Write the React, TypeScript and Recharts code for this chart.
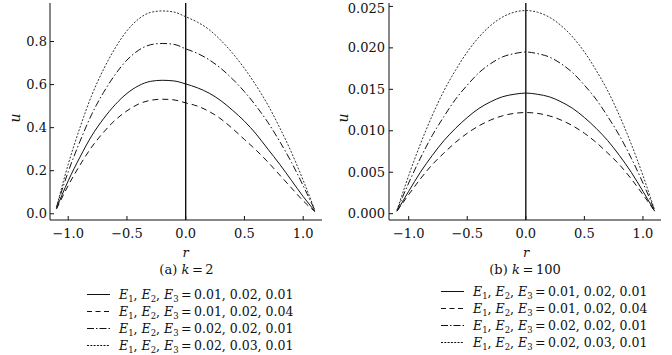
import React from 'react';
import { LineChart, Line, XAxis, YAxis, ReferenceLine } from 'recharts';

// radial coordinate samples
const rValues = [-1.1, -1.0, -0.9, -0.8, -0.7, -0.6, -0.5, -0.4, -0.3, -0.2, -0.1, 0, 0.1, 0.2, 0.3, 0.4, 0.5, 0.6, 0.7, 0.8, 0.9, 1.0, 1.1];

// (a) k = 2
const k2Solid = [0.025, 0.153, 0.263, 0.362, 0.441, 0.507, 0.559, 0.595, 0.615, 0.620, 0.617, 0.603, 0.585, 0.560, 0.525, 0.480, 0.430, 0.370, 0.300, 0.230, 0.155, 0.080, 0.012];
const k2Dashed = [0.022, 0.131, 0.226, 0.310, 0.378, 0.435, 0.478, 0.510, 0.527, 0.532, 0.529, 0.515, 0.500, 0.475, 0.440, 0.395, 0.345, 0.295, 0.240, 0.180, 0.120, 0.060, 0.010];
const k2DashDot = [0.030, 0.195, 0.336, 0.462, 0.563, 0.647, 0.714, 0.760, 0.785, 0.791, 0.787, 0.766, 0.745, 0.715, 0.675, 0.625, 0.567, 0.500, 0.424, 0.336, 0.239, 0.130, 0.015];
const k2Dotted = [0.030, 0.230, 0.400, 0.550, 0.670, 0.770, 0.850, 0.905, 0.935, 0.942, 0.937, 0.915, 0.890, 0.855, 0.805, 0.745, 0.675, 0.595, 0.505, 0.400, 0.285, 0.155, 0.015];

// (b) k = 100
const k100Solid = [0.0003, 0.0027, 0.0050, 0.0070, 0.0088, 0.0103, 0.0116, 0.0127, 0.0135, 0.0141, 0.0144, 0.01455, 0.0144, 0.0141, 0.0135, 0.0127, 0.0116, 0.0103, 0.0088, 0.0070, 0.0050, 0.0027, 0.0003];
const k100Dashed = [0.0003, 0.0023, 0.0042, 0.0059, 0.0073, 0.0086, 0.0097, 0.0106, 0.0113, 0.0118, 0.0121, 0.0122, 0.0121, 0.0118, 0.0113, 0.0106, 0.0097, 0.0086, 0.0073, 0.0059, 0.0042, 0.0023, 0.0003];
const k100DashDot = [0.0004, 0.0037, 0.0067, 0.0094, 0.0117, 0.0138, 0.0155, 0.0170, 0.0181, 0.0189, 0.0193, 0.0195, 0.0193, 0.0189, 0.0181, 0.0170, 0.0155, 0.0138, 0.0117, 0.0094, 0.0067, 0.0037, 0.0004];
const k100Dotted = [0.0004, 0.0046, 0.0084, 0.0118, 0.0148, 0.0173, 0.0195, 0.0213, 0.0227, 0.0237, 0.0243, 0.0245, 0.0243, 0.0237, 0.0227, 0.0213, 0.0195, 0.0173, 0.0148, 0.0118, 0.0084, 0.0046, 0.0004];

const xTicks = [-1, -0.5, 0, 0.5, 1];
const yTicksA = [0, 0.2, 0.4, 0.6, 0.8];
const yTicksB = [0, 0.005, 0.01, 0.015, 0.02, 0.025];

const legendValues = ['0.01, 0.02, 0.01', '0.01, 0.02, 0.04', '0.02, 0.02, 0.01', '0.02, 0.03, 0.01'];
const seriesKeys = ['s1', 's2', 's3', 's4'];
const dashes = [undefined, '6 4', '7 2.5 1.5 2.5', '2 1.6'];
const legendDashes = [undefined, '5 3.5', '7 2 1.5 2', '2 1.3'];

const FONT = 'DejaVu Serif';
const INK = '#111';

function buildRows(a: number[], b: number[], c: number[], d: number[]) {
  return rValues.map((r, i) => ({ r, s1: a[i], s2: b[i], s3: c[i], s4: d[i] }));
}

const dataA = buildRows(k2Solid, k2Dashed, k2DashDot, k2Dotted);
const dataB = buildRows(k100Solid, k100Dashed, k100DashDot, k100Dotted);

const minus = (s: string) => s.replace('-', '\u2212');

type PanelProps = {
  data: any[];
  xDomain: [number, number];
  yDomain: [number, number];
  yTicks: number[];
  yDigits: number;
  yWidth: number;
  marginRight: number;
  yTickMargin: number;
};

function Panel({ data, xDomain, yDomain, yTicks, yDigits, yWidth, marginRight, yTickMargin }: PanelProps) {
  const tickStyle = { fontFamily: FONT, fontSize: 13, fill: INK };
  return (
    <LineChart width={336} height={250} data={data} margin={{ top: 3, right: marginRight, bottom: 0, left: 0 }}>
      <XAxis
        xAxisId="b"
        type="number"
        dataKey="r"
        domain={xDomain}
        allowDataOverflow
        ticks={xTicks}
        tickFormatter={(v: number) => minus(v.toFixed(1))}
        tick={tickStyle}
        tickSize={-4}
        tickMargin={13}
        height={30}
        stroke={INK}
        tickLine={{ stroke: INK }}
        axisLine={{ stroke: INK }}
      />
      <XAxis xAxisId="t" orientation="top" type="number" domain={xDomain} allowDataOverflow height={0} tick={false} tickLine={false} axisLine={{ stroke: INK }} />
      <YAxis
        yAxisId="l"
        type="number"
        domain={yDomain}
        allowDataOverflow
        ticks={yTicks}
        tickFormatter={(v: number) => v.toFixed(yDigits)}
        tick={tickStyle}
        tickSize={-4}
        tickMargin={yTickMargin}
        width={yWidth}
        stroke={INK}
        tickLine={{ stroke: INK }}
        axisLine={{ stroke: INK }}
      />
      <YAxis yAxisId="rt" orientation="right" type="number" domain={yDomain} width={0} tick={false} tickLine={false} axisLine={{ stroke: INK }} />
      <ReferenceLine xAxisId="b" yAxisId="l" x={0} stroke="#000" strokeWidth={1.3} />
      {seriesKeys.map((k, i) => (
        <Line
          key={k}
          xAxisId="b"
          yAxisId="l"
          type="monotone"
          dataKey={k}
          stroke={i === 3 ? '#333' : INK}
          strokeWidth={1}
          strokeDasharray={dashes[i]}
          dot={false}
          activeDot={false}
          isAnimationActive={false}
        />
      ))}
    </LineChart>
  );
}

function LegendRow({ x, y, i }: { x: number; y: number; i: number }) {
  return (
    <g>
      <line x1={x} x2={x + 23} y1={y} y2={y} stroke={INK} strokeWidth={1} strokeDasharray={legendDashes[i]} />
      <text x={x + 32} y={y + 4.5} fontFamily={FONT} fontSize={12.5} fill={INK}>
        <tspan fontStyle="italic">E</tspan>
        <tspan fontSize={8.5} dy={2.5}>1</tspan>
        <tspan dy={-2.5}>, </tspan>
        <tspan fontStyle="italic">E</tspan>
        <tspan fontSize={8.5} dy={2.5}>2</tspan>
        <tspan dy={-2.5}>, </tspan>
        <tspan fontStyle="italic">E</tspan>
        <tspan fontSize={8.5} dy={2.5}>3</tspan>
        <tspan dy={-2.5}>{'\u2009=\u2009' + legendValues[i]}</tspan>
      </text>
    </g>
  );
}

export default function App() {
  const rowsA = [294.5, 311.5, 328.5, 345.5];
  const rowsB = [291.5, 308.5, 325.5, 342.5];
  return (
    <div style={{ position: 'relative', width: 672, height: 355, background: '#fff', overflow: 'hidden' }}>
      <style>{'body{margin:0;}'}</style>
      <div style={{ position: 'absolute', left: 0, top: 0 }}>
        <Panel data={dataA} xDomain={[-1.155, 1.16]} yDomain={[-0.029, 0.979]} yTicks={yTicksA} yDigits={1} yWidth={50} marginRight={14} yTickMargin={7} />
      </div>
      <div style={{ position: 'absolute', left: 336, top: 0 }}>
        <Panel data={dataB} xDomain={[-1.168, 1.154]} yDomain={[-0.00076, 0.02541]} yTicks={yTicksB} yDigits={3} yWidth={53} marginRight={11} yTickMargin={8} />
      </div>
      <svg width={672} height={355} style={{ position: 'absolute', left: 0, top: 0, pointerEvents: 'none' }}>
        <text x={15} y={118} transform="rotate(-90 15 118)" textAnchor="middle" dominantBaseline="central" fontFamily={FONT} fontStyle="italic" fontSize={14} fill={INK}>u</text>
        <text x={343} y={118} transform="rotate(-90 343 118)" textAnchor="middle" dominantBaseline="central" fontFamily={FONT} fontStyle="italic" fontSize={14} fill={INK}>u</text>
        <text x={185.5} y={256.5} textAnchor="middle" fontFamily={FONT} fontStyle="italic" fontSize={13} fill={INK}>r</text>
        <text x={526} y={256.5} textAnchor="middle" fontFamily={FONT} fontStyle="italic" fontSize={13} fill={INK}>r</text>
        <text x={186.5} y={273.5} textAnchor="middle" fontFamily={FONT} fontSize={13} fill={INK}>
          <tspan>(a) </tspan><tspan fontStyle="italic">k</tspan><tspan>{'\u2009=\u20092'}</tspan>
        </text>
        <text x={525} y={273.5} textAnchor="middle" fontFamily={FONT} fontSize={13} fill={INK}>
          <tspan>(b) </tspan><tspan fontStyle="italic">k</tspan><tspan>{'\u2009=\u2009100'}</tspan>
        </text>
        {rowsA.map((y, i) => <LegendRow key={'a' + i} x={87} y={y} i={i} />)}
        {rowsB.map((y, i) => <LegendRow key={'b' + i} x={441} y={y} i={i} />)}
      </svg>
    </div>
  );
}
